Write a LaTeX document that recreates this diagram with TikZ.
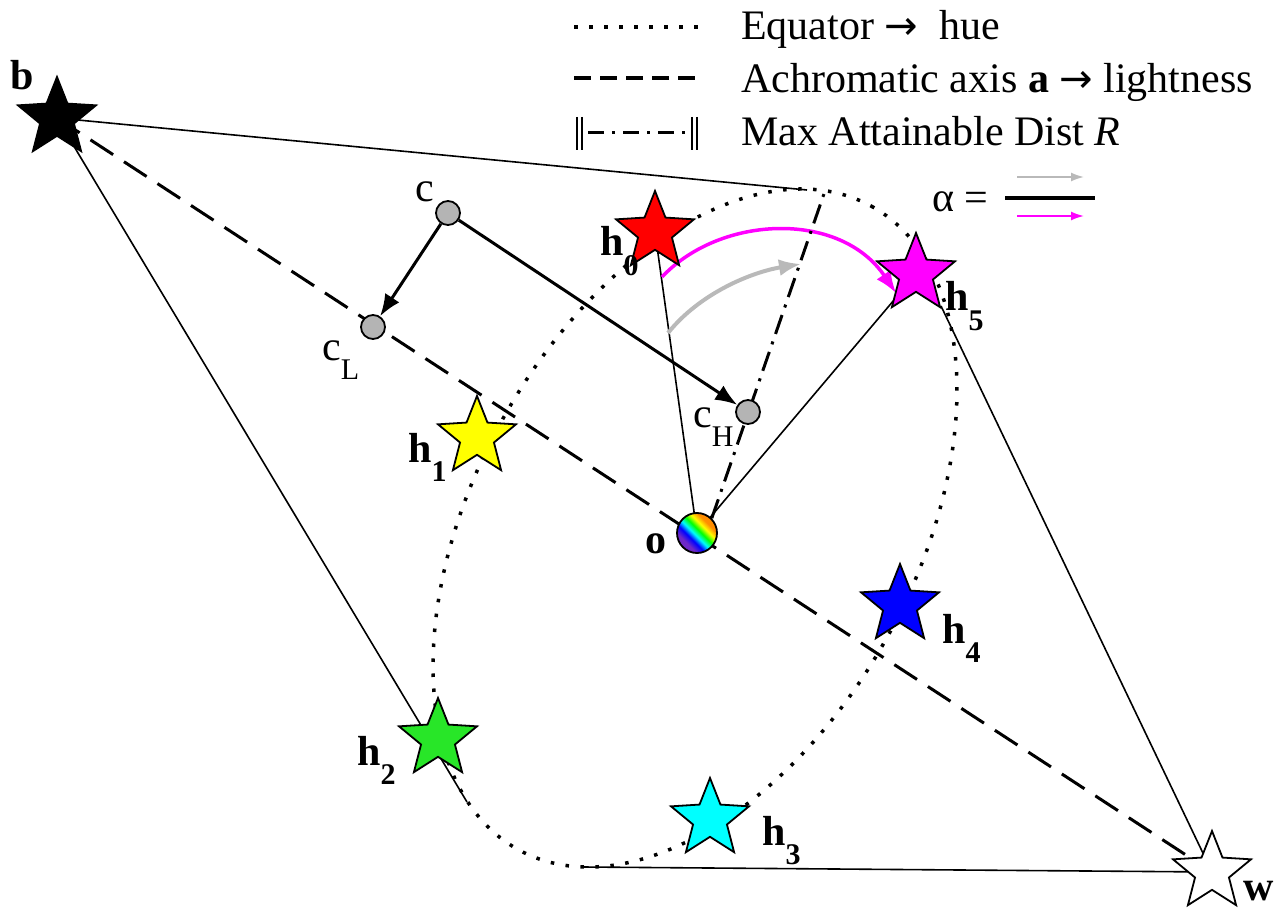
\documentclass[tikz,border=0pt]{standalone}
\usepackage{fontspec}
\setmainfont{Liberation Serif}
\newfontfamily\arrowfont{DejaVu Sans}
\usetikzlibrary{arrows.meta,shapes.geometric}
\definecolor{rbviolet}{RGB}{110,40,200}
\definecolor{rborange}{RGB}{255,140,0}
\definecolor{gcircle}{RGB}{180,180,180}
\definecolor{garrow}{RGB}{185,185,185}
\definecolor{hgreen}{RGB}{40,230,40}
\definecolor{hmagenta}{RGB}{255,0,255}
\definecolor{hcyan}{RGB}{0,255,255}
\definecolor{hred}{RGB}{255,0,0}
\definecolor{hblue}{RGB}{0,0,255}
\definecolor{hyellow}{RGB}{255,255,0}
\pgfdeclarehorizontalshading{rainbowshade}{100bp}{color(0bp)=(rbviolet); color(32bp)=(rbviolet); color(40bp)=(blue); color(47bp)=(cyan); color(54bp)=(green); color(61bp)=(yellow); color(68bp)=(rborange); color(100bp)=(rborange)}
\pgfdeclarelayer{bg}
\pgfsetlayers{bg,main}
\newcommand\hsub[1]{\raisebox{-0.46em}{\fontsize{30}{30}\selectfont #1}}
\newcommand\rarr{{\arrowfont\fontsize{40}{48}\selectfont →}}
\begin{document}
\begin{tikzpicture}[x=1pt,y=-1pt,
  every node/.style={font=\fontsize{42}{50}\selectfont},
  starnode/.style={star, star points=5, star point ratio=2.3, minimum size=82pt, inner sep=0pt, draw=black, line width=1.8pt},
  dotnode/.style={circle, minimum size=24pt, inner sep=0pt, draw=black, line width=1.8pt, fill=gcircle},
  lab/.style={anchor=base west, inner sep=0pt},
  thinline/.style={line width=1.6pt},
  dottedline/.style={line width=3.5pt, dash pattern=on 3.5pt off 11.5pt},
  axisline/.style={line width=3pt, dash pattern=on 27pt off 13pt},
  legdash/.style={line width=3.5pt, dash pattern=on 17pt off 9pt},
  distline/.style={line width=3pt, dash pattern=on 20pt off 8pt on 3pt off 8pt},
  legdist/.style={line width=3pt, dash pattern=on 16pt off 8pt on 3pt off 8pt},
  barline/.style={line width=1.3pt},
  bigarrow/.style={line width=3pt, -{Latex[length=22pt,width=17pt]}},
  smallarrow/.style={line width=1.8pt, -{Latex[length=13pt,width=9pt]}},
]
\useasboundingbox (0,0) rectangle (1288,909);

% coordinates
\coordinate (E) at (695,528);
\coordinate (T1) at (807,190);
\coordinate (T2) at (467,802);
\coordinate (T3) at (583,867);
\coordinate (T4) at (941,306);
\coordinate (Rtop) at (826,188);
\coordinate (G1) at (668,333);
\coordinate (G2) at (801,264);
\coordinate (M1) at (662,277);
\coordinate (M2) at (896,293);

% nodes
\node[starnode, fill=black] (b) at (57,118) {};
\node[starnode, fill=white] (w) at (1212,872) {};
\node[starnode, fill=hred] (h0) at (655,232) {};
\node[starnode, fill=hyellow] (h1) at (477,437) {};
\node[starnode, fill=hgreen] (h2) at (438,739) {};
\node[starnode, fill=hcyan] (h3) at (710,819) {};
\node[starnode, fill=hblue] (h4) at (900,605) {};
\node[starnode, fill=hmagenta] (h5) at (916,274) {};
\node[circle, draw=black, shade, shading=rainbowshade, shading angle=45, minimum size=40pt, inner sep=0pt, line width=1.8pt] (o) at (697,533) {};
\node[dotnode] (c) at (448,213) {};
\node[dotnode] (cL) at (373,327) {};
\node[dotnode] (cH) at (748,412) {};

% labels
\node[lab] (lb) at (10,90) {\textbf{b}};
\node[lab] (lw) at (1243,900) {\textbf{w}};
\node[lab] (lo) at (645,553) {\textbf{o}};
\node[lab] (lc) at (415,202) {c};
\node[lab] (lcL) at (322,360) {c\hsub{L}};
\node[lab] (lcH) at (693,427) {c\hsub{H}};
\node[lab] (lh0) at (600,256) {\textbf{h}\hsub{\textbf{0}}};
\node[lab] (lh1) at (408,462) {\textbf{h}\hsub{\textbf{1}}};
\node[lab] (lh2) at (357,765) {\textbf{h}\hsub{\textbf{2}}};
\node[lab] (lh3) at (762,845) {\textbf{h}\hsub{\textbf{3}}};
\node[lab] (lh4) at (942,643) {\textbf{h}\hsub{\textbf{4}}};
\node[lab] (lh5) at (945,311) {\textbf{h}\hsub{\textbf{5}}};

% legend
\coordinate (La1) at (574,27); \coordinate (La2) at (700,27);
\coordinate (Lb1) at (574,78); \coordinate (Lb2) at (700,78);
\coordinate (Lc1) at (588,133); \coordinate (Lc2) at (688,133);
\draw[dottedline] (La1) -- (La2);
\draw[legdash] (Lb1) -- (Lb2);
\draw[legdist] (Lc1) -- (Lc2);
\foreach \bx in {577,582,692,697} {\draw[barline] (\bx,117) -- (\bx,150);}
\node[lab] (t1) at (741,40) {Equator \rarr\ \ hue};
\node[lab] (t2) at (741,93) {Achromatic axis \textbf{a} \rarr\ lightness};
\node[lab] (t3) at (741,146) {Max Attainable Dist \textit{R}};

% alpha legend
\node[lab] (alpha) at (932,212) {α =};
\coordinate (Ab1) at (1005,198); \coordinate (Ab2) at (1095,198);
\coordinate (Ag1) at (1017,177); \coordinate (Ag2) at (1084,177);
\coordinate (Am1) at (1017,216); \coordinate (Am2) at (1084,216);
\draw[line width=3.5pt] (Ab1) -- (Ab2);
\draw[smallarrow, draw=garrow] (Ag1) -- (Ag2);
\draw[smallarrow, draw=hmagenta] (Am1) -- (Am2);

\begin{pgfonlayer}{bg}
\draw[dottedline, rotate around={61.3:(E)}] (E) ellipse [x radius=367, y radius=221];
\draw[axisline] (b.center) -- (w.center);
\draw[thinline] (b.center) -- (T1);
\draw[thinline] (b.center) -- (T2);
\draw[thinline] (w.center) -- (T3);
\draw[thinline] (w.center) -- (T4);
\draw[thinline] (o.center) -- (h0.center);
\draw[thinline] (o.center) -- (h5.center);
\draw[bigarrow, draw=hmagenta, line width=3.5pt] (M1) .. controls (720,215) and (840,210) .. (M2);
\draw[distline] (o.45) -- (Rtop);
\draw[bigarrow, draw=garrow, line width=4pt] (G1) .. controls (700,293) and (752,272) .. (G2);
\draw[bigarrow] (c) -- (cL);
\draw[bigarrow] (c) -- (cH);
\end{pgfonlayer}
\end{tikzpicture}
\end{document}
